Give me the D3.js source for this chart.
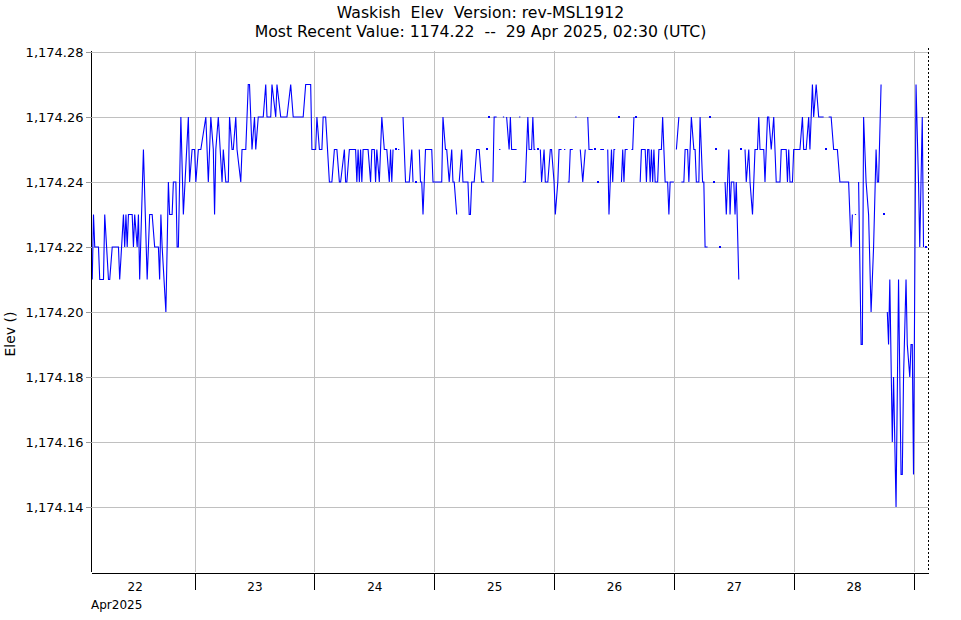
<!DOCTYPE html>
<html><head><meta charset="utf-8">
<script src="https://cdn.jsdelivr.net/npm/d3@7"></script>
<style>
body{margin:0;background:#fff}
svg{display:block}
text{font-family:"DejaVu Sans",sans-serif;fill:#000}
</style>
</head><body>
<svg id="c" width="961" height="620"></svg>
<script>
// ---------------- data ----------------
const titleLines = ["Waskish  Elev  Version: rev-MSL1912",
                    "Most Recent Value: 1174.22  --  29 Apr 2025, 02:30 (UTC)"];
const yAxisLabel = "Elev ()";
const monthLabel = "Apr2025";
const yTickValues = [1174.14, 1174.16, 1174.18, 1174.20, 1174.22, 1174.24, 1174.26, 1174.28];
const dayLabels = [22, 23, 24, 25, 26, 27, 28];
// window start (UTC) and readings: [quarter-hours after start, elevation] ; null = no data
const windowStartUTC = [2025, 3, 22, 3, 15];
const windowEndUTC   = [2025, 3, 29, 3, 0];
const nowUTC         = [2025, 3, 29, 2, 54];
const readings = [
[1,1174.21],[2,1174.23],[3,1174.22],[6,1174.22],[7,1174.21],[10,1174.21],[11,1174.23],[14,1174.21],[15,1174.21],[17,1174.22],
[22,1174.22],[23,1174.21],[26,1174.23],[27,1174.22],[28,1174.23],[29,1174.22],[30,1174.23],[33,1174.23],[34,1174.22],[35,1174.23],
[37,1174.22],[38,1174.23],[39,1174.21],[42,1174.25],[45,1174.21],[46,1174.22],[47,1174.23],[49,1174.23],[51,1174.22],[54,1174.22],
[55,1174.21],[56,1174.23],[57,1174.22],[60,1174.20],[62,1174.24],[63,1174.23],[65,1174.23],[66,1174.24],[68,1174.24],[69,1174.22],
[70,1174.22],[72,1174.26],[74,1174.23],
[78,1174.26],[79,1174.24],[81,1174.25],[83,1174.25],[84,1174.24],[86,1174.25],[88,1174.25],[92,1174.26],[94,1174.24],[96,1174.26],
[98,1174.25],[99,1174.23],[100,1174.25],[102,1174.26],[105,1174.24],[106,1174.25],[108,1174.24],[110,1174.24],[111,1174.26],[113,1174.25],
[114,1174.25],[116,1174.26],[117,1174.25],[120,1174.24],[121,1174.25],[124,1174.25],[126,1174.27],[127,1174.27],[129,1174.25],[131,1174.26],
[132,1174.25],[134,1174.26],[138,1174.26],[140,1174.27],[141,1174.26],[144,1174.26],[145,1174.27],[148,1174.26],[149,1174.27],
[152,1174.26],[157,1174.26],[160,1174.27],[162,1174.26],[170,1174.26],[172,1174.27],[176,1174.27],[177,1174.25],[180,1174.25],[181,1174.26],
[183,1174.25],[185,1174.25],[186,1174.26],[188,1174.26],[191,1174.24],[193,1174.24],[195,1174.25],[197,1174.25],[199,1174.24],[200,1174.24],
[203,1174.25],[204,1174.24],[205,1174.24],[207,1174.25],[212,1174.25],[213,1174.24],[214,1174.25],[215,1174.24],[216,1174.25],[217,1174.24],
[218,1174.25],[222,1174.25],[224,1174.24],[225,1174.25],[227,1174.25],
[228,1174.24],[229,1174.25],[231,1174.24],[233,1174.26],[235,1174.25],[237,1174.25],[239,1174.24],[240,1174.25],[241,1174.24],[242,1174.25],
[243,null],[244,1174.25],[245,null],[246,1174.25],[247,1174.25],[248,null],[250,1174.26],[252,1174.24],[255,1174.24],[257,1174.25],
[258,1174.24],[259,null],[260,1174.24],[261,null],[263,1174.25],[264,1174.24],[265,1174.24],[266,1174.23],[268,1174.25],[273,1174.25],
[274,1174.24],[281,1174.24],[282,1174.26],[284,1174.25],[285,1174.25],[287,1174.24],[289,1174.25],[290,1174.24],[291,1174.24],[293,1174.23],
[294,null],[295,1174.24],[297,1174.25],[298,1174.24],[302,1174.24],[303,1174.23],
[304,1174.23],[305,1174.24],[307,1174.24],[309,1174.25],[311,1174.25],[313,1174.24],[315,1174.24],[316,null],[317,1174.25],[318,null],
[319,1174.26],[320,null],[322,1174.24],[323,1174.26],[325,1174.26],[326,null],[327,1174.25],[328,1174.25],[329,null],[330,1174.26],
[331,1174.26],[332,null],[333,1174.26],[335,1174.25],[336,1174.26],[337,1174.25],[341,1174.25],[342,null],[343,1174.26],[344,1174.26],
[345,null],[346,1174.24],[348,1174.24],[350,1174.26],[351,1174.25],[353,1174.25],[354,1174.26],[355,1174.25],[356,1174.25],[357,null],
[358,1174.25],[359,null],[360,1174.25],[361,1174.24],[363,1174.25],[364,1174.24],[366,1174.24],[368,1174.25],[369,1174.25],[371,1174.24],
[372,1174.23],[374,1174.24],[375,1174.25],[377,1174.25],[378,null],
[379,1174.25],[380,1174.25],[381,null],[382,1174.24],[383,1174.24],[384,1174.25],[386,1174.25],[387,null],[388,1174.26],[389,1174.26],
[390,null],[392,1174.25],[394,1174.24],[396,1174.25],[397,null],[398,1174.26],[399,1174.25],[402,1174.25],[403,null],[404,1174.25],
[405,null],[406,1174.24],[407,null],[408,1174.25],[411,1174.25],[412,null],[414,1174.25],[415,1174.23],[417,1174.25],[418,1174.24],
[419,1174.25],[420,1174.25],[421,null],[423,1174.26],[424,null],[425,1174.24],[426,1174.25],[427,1174.24],[428,1174.25],[430,1174.25],
[431,null],[433,1174.25],[434,1174.25],[435,1174.26],[436,null],[437,1174.26],[438,null],[440,1174.24],[441,1174.25],[444,1174.25],
[445,1174.24],[446,1174.25],[447,1174.25],[448,1174.24],[449,1174.25],[450,1174.24],[451,1174.25],[452,1174.24],[454,1174.24],
[455,1174.25],[457,1174.25],[458,1174.26],[460,1174.24],[462,1174.24],[463,1174.23],[464,1174.24],[467,1174.24],[468,null],[469,1174.25],
[471,1174.26],[472,null],[473,1174.24],[475,1174.24],[476,1174.25],[478,1174.25],[479,1174.24],[481,1174.26],[483,1174.25],[484,1174.25],
[485,1174.24],[487,1174.24],[488,1174.26],[490,1174.24],[491,1174.24],[492,1174.22],[494,1174.22],[495,null],[496,1174.26],[497,null],
[499,1174.24],[500,null],[501,1174.25],[502,null],[504,1174.22],[505,null],[508,1174.24],[509,1174.23],[511,1174.25],[512,1174.23],
[513,1174.24],[515,1174.24],[516,1174.23],[517,1174.24],[519,1174.21],[520,null],[521,1174.25],[522,null],[524,1174.25],[525,1174.24],
[527,1174.25],[528,1174.24],[530,1174.23],[532,1174.25],
[534,1174.25],[535,1174.26],[536,1174.25],[539,1174.25],[540,1174.24],[542,1174.26],[543,1174.26],[545,1174.25],[547,1174.26],[549,1174.24],
[552,1174.24],[553,1174.25],[557,1174.25],[558,1174.24],[559,1174.25],[560,1174.24],[562,1174.24],[563,1174.25],[568,1174.25],[570,1174.26],
[571,1174.25],[573,1174.25],[575,1174.26],[576,1174.25],[577,1174.26],[578,1174.27],[579,1174.26],[581,1174.27],[583,1174.26],[587,1174.26],
[588,null],[589,1174.25],[590,null],[591,1174.26],[593,1174.26],[595,1174.25],[598,1174.25],[600,1174.24],[607,1174.24],
[609,1174.22],[610,1174.23],[611,null],[612,1174.23],[613,1174.23],[614,null],[615,1174.24],[617,1174.19],[618,1174.19],[619,1174.26],
[621,1174.24],[623,1174.23],[625,1174.20],[627,1174.22],[629,1174.25],[630,1174.24],[631,1174.24],[633,1174.27],[634,null],[635,1174.23],
[636,null],[638,1174.20],[639,1174.19],[640,1174.21],[642,1174.16],[643,1174.18],[645,1174.14],[647,1174.21],[649,1174.15],[650,1174.15],
[651,1174.18],[653,1174.21],[654,1174.19],[656,1174.18],[657,1174.19],[658,1174.19],[659,1174.15],[661,1174.27],[663,1174.24],[664,1174.22],
[666,1174.26],[667,1174.22],[668,null],[669,1174.22]
];

// ---------------- chart ----------------
const W = 961, H = 620;
const plot = {left: 91, right: 928.5, top: 52, bottom: 572};
const svg = d3.select("#c");
const t0 = new Date(Date.UTC(...windowStartUTC));
const t1 = new Date(Date.UTC(...windowEndUTC));
const tNow = new Date(Date.UTC(...nowUTC));
const x = d3.scaleUtc().domain([t0, t1]).range([plot.left, plot.right]);
const y = d3.scaleLinear().domain([1174.12, 1174.28]).range([plot.bottom, plot.top]);

const data = readings.map(([q, v]) => ({t: new Date(+t0 + q * 15 * 60000), v}));

const midnights = d3.utcDay.range(new Date(Date.UTC(2025, 3, 23)), new Date(Date.UTC(2025, 3, 30)));
const noons = dayLabels.map(d => new Date(Date.UTC(2025, 3, d, 12)));
const px = v => Math.round(v) + 0.5;

// grid
const grid = svg.append("g").attr("shape-rendering", "crispEdges");
grid.selectAll("line.h").data(yTickValues).join("line").attr("class", "h")
  .attr("x1", plot.left).attr("x2", Math.round(plot.right) - 1)
  .attr("y1", d => px(y(d))).attr("y2", d => px(y(d)))
  .attr("stroke", "#c0c0c0");
grid.selectAll("line.v").data(midnights).join("line").attr("class", "v")
  .attr("x1", d => px(x(d))).attr("x2", d => px(x(d)))
  .attr("y1", plot.top - 1).attr("y2", plot.bottom)
  .attr("stroke", "#c0c0c0");

// series
const line = d3.line().defined(d => d.v != null).x(d => x(d.t)).y(d => y(d.v));
svg.append("path").datum(data).attr("d", line)
  .attr("fill", "none").attr("stroke", "#0000ff").attr("stroke-width", 1.1)
  .attr("stroke-linejoin", "miter");
const isolated = data.filter((d, i) => d.v != null &&
  (i === 0 || data[i - 1].v == null) && (i === data.length - 1 || data[i + 1].v == null));
svg.selectAll("rect.pt").data(isolated).join("rect").attr("class", "pt")
  .attr("x", d => Math.round(x(d.t)) - 1).attr("y", d => Math.round(y(d.v)) - 1)
  .attr("width", 2).attr("height", 2).attr("fill", "#0000ff");

// y axis
const yAxis = svg.append("g").attr("transform", `translate(${plot.left + 0.5},0)`)
  .call(d3.axisLeft(y).tickValues(yTickValues).tickSize(6).tickSizeOuter(0)
    .tickFormat(d3.format(",.2f")).tickPadding(2));
yAxis.attr("shape-rendering", "crispEdges");
yAxis.select(".domain").attr("stroke", "#000").attr("d", `M0,${plot.top - 1}V${plot.bottom}`);
yAxis.selectAll(".tick line").attr("stroke", "#999");
yAxis.selectAll(".tick text").attr("font-family", "DejaVu Sans").attr("font-size", 13).attr("fill", "#000");

// x axis: day boundaries
const xAxis = svg.append("g").attr("transform", `translate(0,${plot.bottom + 0.5})`)
  .call(d3.axisBottom(x).tickValues(midnights).tickSize(17).tickSizeOuter(0).tickFormat(""));
xAxis.attr("shape-rendering", "crispEdges");
xAxis.select(".domain").attr("stroke", "#000");
xAxis.selectAll(".tick line").attr("stroke", "#000");

// x axis: day labels at noon
const xLab = svg.append("g").attr("transform", `translate(0,${plot.bottom})`)
  .call(d3.axisBottom(x).tickValues(noons).tickSize(0).tickPadding(10).tickFormat(d3.utcFormat("%-d")));
xLab.select(".domain").remove();
xLab.selectAll(".tick text").attr("font-family", "DejaVu Sans").attr("font-size", 12).attr("fill", "#000");

svg.append("text").attr("x", plot.left).attr("y", 609)
  .attr("font-size", 12).text(monthLabel);

// "now" marker
svg.append("line").attr("x1", px(x(tNow))).attr("x2", px(x(tNow)))
  .attr("y1", plot.top - 4).attr("y2", plot.bottom)
  .attr("stroke", "#000").attr("stroke-dasharray", "2,2").attr("shape-rendering", "crispEdges");

// titles
svg.selectAll("text.title").data(titleLines).join("text").attr("class", "title")
  .attr("x", W / 2).attr("y", (d, i) => 18 + i * 19)
  .attr("text-anchor", "middle").attr("font-size", 15.7)
  .style("white-space", "pre").text(d => d);

// y label
svg.append("text").attr("transform", "translate(15,334) rotate(-90)")
  .attr("text-anchor", "middle").attr("font-size", 14).text(yAxisLabel);
</script>
</body></html>
